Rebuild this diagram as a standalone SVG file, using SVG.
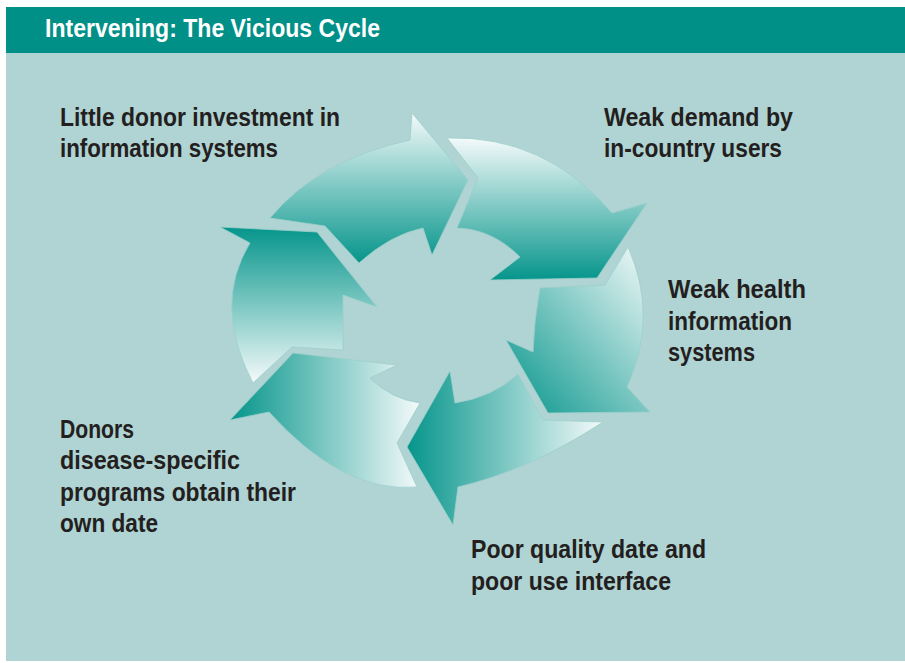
<svg xmlns="http://www.w3.org/2000/svg" width="905" height="663" viewBox="0 0 905 663">
<defs>
<style>
.lbl{font-family:"Liberation Sans",Arial,sans-serif;font-weight:bold;font-size:26px;fill:#231F20}
.ttl{font-family:"Liberation Sans",Arial,sans-serif;font-weight:bold;font-size:25px;fill:#FFFFFF}
.arr{stroke:#9CCFCB;stroke-width:0.8;stroke-linejoin:miter}
</style>
<linearGradient id="gDown" x1="0" y1="0" x2="0" y2="1"><stop offset="0" stop-color="#F4FAFA"/><stop offset="1" stop-color="#05958B"/></linearGradient>
<linearGradient id="gUp" x1="0" y1="0" x2="0" y2="1"><stop offset="0" stop-color="#05958B"/><stop offset="1" stop-color="#F4FAFA"/></linearGradient>
<linearGradient id="gRight" x1="0" y1="0" x2="1" y2="0"><stop offset="0" stop-color="#05958B"/><stop offset="1" stop-color="#F4FAFA"/></linearGradient>
<linearGradient id="gDiag" x1="1" y1="0" x2="0" y2="1"><stop offset="0" stop-color="#F4FAFA"/><stop offset="1" stop-color="#05958B"/></linearGradient>
</defs>
<rect x="0" y="0" width="905" height="663" fill="#FFFFFF"/>
<rect x="6" y="53" width="899" height="608" fill="#B0D3D3"/>
<g id="header">
<rect x="6" y="7" width="899" height="46" fill="#009087"/>
<text class="ttl" x="45" y="37" textLength="335" lengthAdjust="spacingAndGlyphs">Intervening: The Vicious Cycle</text>
</g>
<g id="connectors">
<path id="arrow1" class="arr" fill="url(#gDown)" d="M270,218 Q318,160 410,140 L412,113 L468,180 L432,255 L423,228 Q390,235 359,263 L325,226 Z"/>
<path id="arrow2" class="arr" fill="url(#gDown)" d="M447,138 L478,178 L457,228 Q492,229 520,257 L490,280 L597,278 L647,203 L612,213 Q545,135 447,138 Z"/>
<path id="arrow3" class="arr" fill="url(#gDiag)" d="M540,288 L605,285 L628,247 Q659,317 627,387 L650,412 L548,413 L506,340 L533,352 Q534,320 540,288 Z"/>
<path id="arrow4" class="arr" fill="url(#gRight)" d="M407,447 L450,371 L455,403 Q493,397 518,374 L543,420 L603,422 Q530,470 458,487 L453,525 Z"/>
<path id="arrow5" class="arr" fill="url(#gRight)" d="M230,420 L293,353 L397,365 L370,378 Q391,399 420,403 L397,443 L417,487 Q343,494 269,412 Z"/>
<path id="arrow6" class="arr" fill="url(#gUp)" d="M220,227 L317,232 L377,307 L343,295 L343,350 L292,347 L253,383 Q212,305 250,243 Z"/>
</g>
<g id="node-donor-investment">
<text class="lbl" x="60" y="126" textLength="280" lengthAdjust="spacingAndGlyphs">Little donor investment in</text>
<text class="lbl" x="60" y="157" textLength="218" lengthAdjust="spacingAndGlyphs">information systems</text>
</g>
<g id="node-weak-demand">
<text class="lbl" x="604" y="126" textLength="189" lengthAdjust="spacingAndGlyphs">Weak demand by</text>
<text class="lbl" x="604" y="157" textLength="178" lengthAdjust="spacingAndGlyphs">in-country users</text>
</g>
<g id="node-weak-his">
<text class="lbl" x="668" y="298" textLength="138" lengthAdjust="spacingAndGlyphs">Weak health</text>
<text class="lbl" x="668" y="330" textLength="124" lengthAdjust="spacingAndGlyphs">information</text>
<text class="lbl" x="668" y="361" textLength="87" lengthAdjust="spacingAndGlyphs">systems</text>
</g>
<g id="node-poor-quality">
<text class="lbl" x="471" y="558" textLength="235" lengthAdjust="spacingAndGlyphs">Poor quality date and</text>
<text class="lbl" x="471" y="590" textLength="200" lengthAdjust="spacingAndGlyphs">poor use interface</text>
</g>
<g id="node-donors">
<text class="lbl" x="60" y="438" textLength="74" lengthAdjust="spacingAndGlyphs">Donors</text>
<text class="lbl" x="60" y="469" textLength="180" lengthAdjust="spacingAndGlyphs">disease-specific</text>
<text class="lbl" x="60" y="501" textLength="236" lengthAdjust="spacingAndGlyphs">programs obtain their</text>
<text class="lbl" x="60" y="532" textLength="98" lengthAdjust="spacingAndGlyphs">own date</text>
</g>
</svg>
